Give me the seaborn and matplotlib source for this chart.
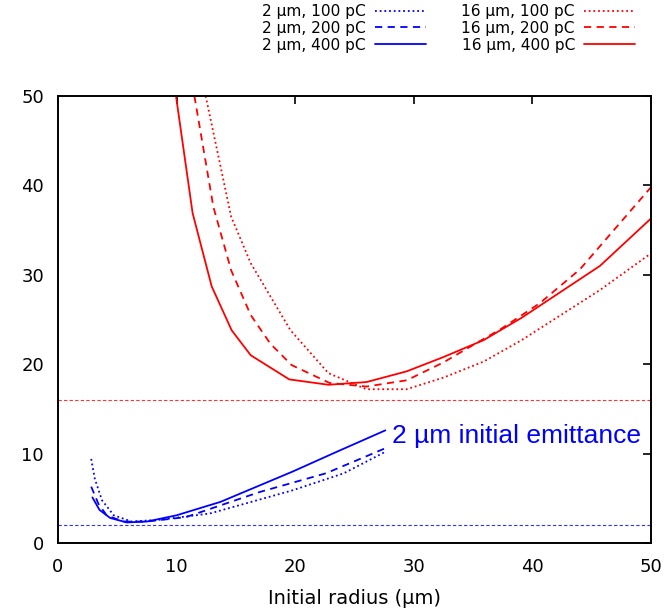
import matplotlib
matplotlib.use("Agg")
import matplotlib.pyplot as plt
import seaborn as sns
import pandas as pd

sns.set_style("white")
plt.rcParams['font.family'] = ['DejaVu Sans']
plt.rcParams['text.color'] = 'black'
plt.rcParams['axes.labelcolor'] = 'black'

# 2 um emittance series
b100_x = [2.8, 3.1, 3.7, 4.7, 6.2, 8.6, 12.8, 19.8, 24.1, 27.6]
b100_y = [9.4, 7.2, 4.8, 3.1, 2.4, 2.6, 3.3, 5.9, 7.8, 10.2]
b200_x = [2.8, 3.4, 4.1, 5.5, 7.5, 10.8, 17.0, 22.6, 27.6]
b200_y = [6.3, 4.4, 3.1, 2.4, 2.4, 2.9, 5.7, 7.8, 10.6]
b400_x = [2.9, 3.5, 4.4, 5.8, 7.5, 10.0, 13.7, 19.8, 23.5, 27.6]
b400_y = [5.1, 3.7, 2.8, 2.3, 2.4, 3.1, 4.6, 8.0, 10.2, 12.6]

# 16 um emittance series
r100_x = [12.45, 14.6, 16.25, 19.6, 22.8, 26.0, 29.4, 32.5, 35.9, 39.1, 45.7, 50.0]
r100_y = [50.0, 36.5, 31.3, 23.8, 19.0, 17.2, 17.2, 18.5, 20.3, 22.7, 28.3, 32.4]
r200_x = [11.5, 13.1, 14.6, 16.25, 17.9, 19.7, 22.9, 26.0, 29.4, 32.5, 35.2, 37.3, 40.6, 44.0, 50.0]
r200_y = [50.0, 37.6, 30.5, 25.5, 22.3, 19.9, 17.9, 17.5, 18.2, 20.2, 22.3, 23.9, 26.8, 30.6, 39.8]
r400_x = [9.95, 11.35, 12.96, 14.64, 16.25, 19.5, 22.8, 26.0, 29.4, 32.5, 35.9, 39.1, 45.7, 50.0]
r400_y = [50.0, 36.9, 28.7, 23.8, 21.0, 18.3, 17.7, 18.0, 19.2, 20.8, 22.7, 25.2, 31.0, 36.3]

ref_levels = [2, 16]
ref_colors = ['blue', 'red']

series = [
    ("2 µm, 100 pC", b100_x, b100_y, 'blue', (0, (1, 1.6))),
    ("2 µm, 200 pC", b200_x, b200_y, 'blue', (0, (4, 3))),
    ("2 µm, 400 pC", b400_x, b400_y, 'blue', '-'),
    ("16 µm, 100 pC", r100_x, r100_y, 'red', (0, (1, 1.6))),
    ("16 µm, 200 pC", r200_x, r200_y, 'red', (0, (4, 3))),
    ("16 µm, 400 pC", r400_x, r400_y, 'red', '-'),
]

fig = plt.figure(figsize=(6.66, 6.13), dpi=100)
ax = fig.add_axes([58/666, 70/613, 593/666, 447/613])

for lvl, c in zip(ref_levels, ref_colors):
    ax.axhline(lvl, color=c, lw=0.8, ls=(0, (3, 2)), alpha=0.8, zorder=1)

handles = []
for label, xs, ys, c, ls in series:
    df = pd.DataFrame({'x': xs, 'y': ys})
    sns.lineplot(data=df, x='x', y='y', ax=ax, color=c, linestyle=ls,
                 lw=1.3, sort=False, estimator=None, label=label, legend=False)
    handles.append(ax.lines[-1])

ax.set_xlim(0, 50)
ax.set_ylim(0, 50)
ax.set_xticks([0, 10, 20, 30, 40, 50])
ax.set_yticks([0, 10, 20, 30, 40, 50])
ax.tick_params(direction='in', top=True, right=True, length=6, width=1.2,
               labelsize=13, colors='black', pad=10)
ax.tick_params(axis='x', pad=11)
for sp in ax.spines.values():
    sp.set_color('black')
    sp.set_linewidth(1.4)
ax.set_xlabel("Initial radius (µm)", fontsize=14, labelpad=9, color='black')
ax.set_ylabel("")

ax.text(28.15, 11.2, "2 µm initial emittance", color='blue', fontsize=19,
        family=['Liberation Sans', 'DejaVu Sans'], ha='left', va='baseline',
        bbox=dict(fc='white', ec='none', pad=1), zorder=5)

leg = fig.legend(handles=handles, labels=[s[0] for s in series], ncol=2,
                 markerfirst=False, frameon=False, fontsize=11.1,
                 loc='upper right', bbox_to_anchor=(635/666, 1 - 4/613),
                 borderpad=0, borderaxespad=0, handlelength=3.3,
                 handletextpad=0.6, columnspacing=2.3, labelspacing=0.12)
for t in leg.get_texts():
    t.set_color('black')

fig.savefig("out.png", dpi=100)
